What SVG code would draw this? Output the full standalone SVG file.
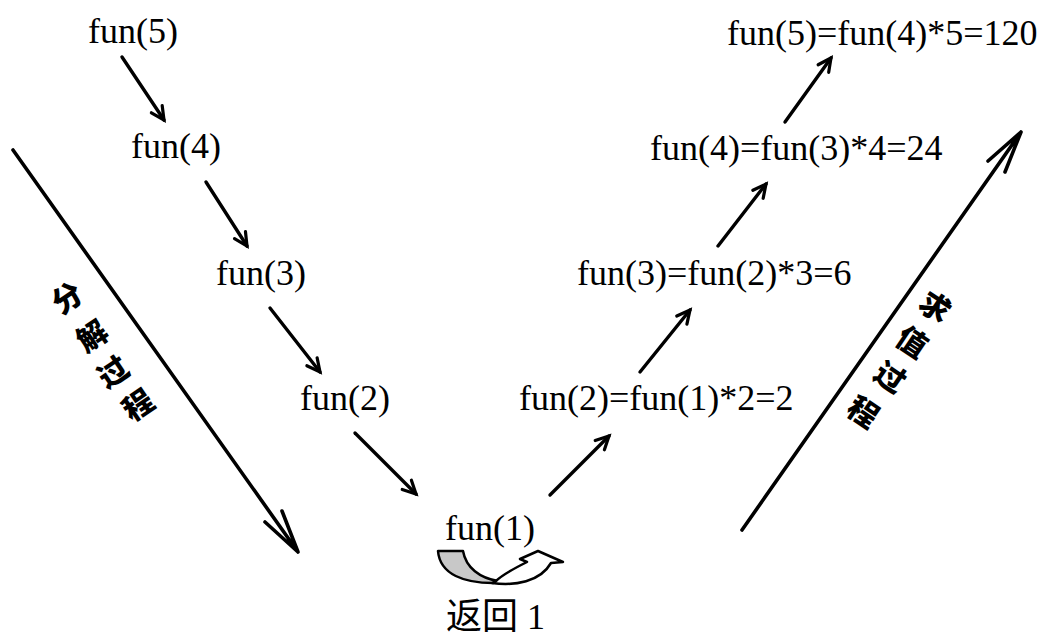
<svg xmlns="http://www.w3.org/2000/svg" width="1046" height="636" viewBox="0 0 1046 636">
<defs>
<style>
.t{font-family:"Liberation Serif","Times New Roman",serif;font-size:36px;fill:#000}
.c{font-family:"Noto Sans CJK SC",sans-serif;font-size:30px;font-weight:900;fill:#000}
.cn{font-family:"Liberation Serif","Noto Sans CJK SC",serif;font-size:36px;fill:#000}
.a{stroke:#000;stroke-width:3.4;fill:none;stroke-linecap:round}
.b{stroke:#000;stroke-width:3.6;fill:none;stroke-linecap:round}
</style>
<marker id="ah" markerUnits="userSpaceOnUse" markerWidth="20" markerHeight="20" refX="16" refY="8" orient="auto" viewBox="0 0 20 16">
<path d="M3,1.5 L16,8 L3,14.5" fill="none" stroke="#000" stroke-width="3.2" stroke-linecap="round" stroke-linejoin="miter"/>
</marker>
</defs>
<rect width="1046" height="636" fill="#fff"/>
<g id="n5"><text class="t" x="88" y="43">fun(5)</text></g>
<g id="n4"><text class="t" x="131" y="158">fun(4)</text></g>
<g id="n3"><text class="t" x="216" y="285">fun(3)</text></g>
<g id="n2"><text class="t" x="300" y="410">fun(2)</text></g>
<g id="n1"><text class="t" x="445" y="540">fun(1)</text></g>
<g id="r2"><text class="t" x="519" y="410">fun(2)=fun(1)*2=2</text></g>
<g id="r3"><text class="t" x="577" y="285">fun(3)=fun(2)*3=6</text></g>
<g id="r4"><text class="t" x="650" y="160">fun(4)=fun(3)*4=24</text></g>
<g id="r5"><text class="t" x="727" y="45">fun(5)=fun(4)*5=120</text></g>
<g id="ret">
<path d="M438,551 L463,551 C466,568 480,578 498,581 L493,583 C465,583 440,575 438,551 Z" fill="#c8c8c8" stroke="#000" stroke-width="2.5" stroke-linejoin="round"/>
<path d="M492,583 C515,586 540,582 551,563 L563,562 L538,551 L520,559 L527,562 C515,568 503,574 496,581 Z" fill="#fff" stroke="#000" stroke-width="2.5" stroke-linejoin="round"/>
<text class="cn" x="446" y="629">返回 1</text>
</g>
<g id="connectors">
<line class="a" x1="122" y1="57" x2="164" y2="120" marker-end="url(#ah)"/>
<line class="a" x1="206" y1="182" x2="247" y2="246" marker-end="url(#ah)"/>
<line class="a" x1="270" y1="308" x2="320" y2="372" marker-end="url(#ah)"/>
<line class="a" x1="355" y1="433" x2="416" y2="494" marker-end="url(#ah)"/>
<line class="a" x1="550" y1="495" x2="609" y2="436" marker-end="url(#ah)"/>
<line class="a" x1="640" y1="372" x2="690" y2="310" marker-end="url(#ah)"/>
<line class="a" x1="718" y1="246" x2="766" y2="184" marker-end="url(#ah)"/>
<line class="a" x1="785" y1="122" x2="831" y2="58" marker-end="url(#ah)"/>
</g>
<g id="decompose">
<path class="b" d="M13,150 L298,552 M265,522 L298,552 L282,511"/>
<text class="c" text-anchor="middle" transform="translate(67,298) rotate(-34)" y="11">分</text>
<text class="c" text-anchor="middle" transform="translate(92,336) rotate(-34)" y="11">解</text>
<text class="c" text-anchor="middle" transform="translate(113,372) rotate(-34)" y="11">过</text>
<text class="c" text-anchor="middle" transform="translate(138,405) rotate(-34)" y="11">程</text>
</g>
<g id="evaluate">
<path class="b" d="M742,530 L1021,132 M988,161 L1021,132 L1005,172"/>
<text class="c" text-anchor="middle" transform="translate(935,307) rotate(34)" y="11">求</text>
<text class="c" text-anchor="middle" transform="translate(912,342) rotate(34)" y="11">值</text>
<text class="c" text-anchor="middle" transform="translate(890,377) rotate(34)" y="11">过</text>
<text class="c" text-anchor="middle" transform="translate(863,412) rotate(34)" y="11">程</text>
</g>
</svg>
